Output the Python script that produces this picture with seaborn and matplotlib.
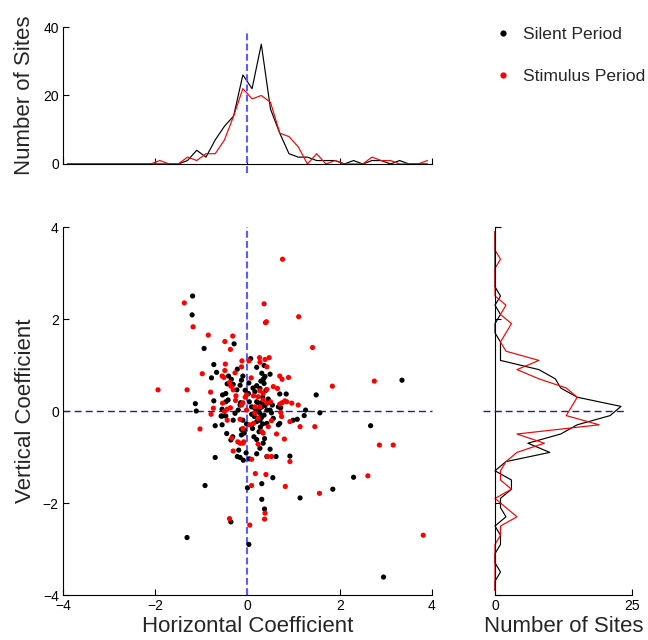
import matplotlib
matplotlib.use("Agg")
import matplotlib.pyplot as plt
from matplotlib.lines import Line2D
import pandas as pd
import seaborn as sns

sns.set_theme(style="ticks")
plt.rcParams["font.family"] = ["Liberation Sans", "DejaVu Sans"]

# histogram bin centres (width 0.2)
bin_centers = [-3.9, -3.7, -3.5, -3.3, -3.1, -2.9, -2.7, -2.5, -2.3, -2.1,
               -1.9, -1.7, -1.5, -1.3, -1.1, -0.9, -0.7, -0.5, -0.3, -0.1,
               0.1, 0.3, 0.5, 0.7, 0.9, 1.1, 1.3, 1.5, 1.7, 1.9,
               2.1, 2.3, 2.5, 2.7, 2.9, 3.1, 3.3, 3.5, 3.7, 3.9]

# horizontal coefficient histogram (top)
top_silent = [0, 0, 0, 0, 0, 0, 0, 0, 0, 0,
              0, 0, 0, 1, 4, 2, 7, 11, 14, 26,
              22, 35, 16, 9, 3, 2, 2, 1, 1, 1,
              0, 1, 0, 1, 1, 0, 1, 0, 0, 0]
top_stim = [0, 0, 0, 0, 0, 0, 0, 0, 0, 0,
            1, 0, 0, 2, 1, 3, 3, 7, 14, 22,
            19, 20, 18, 9, 8, 5, 0, 3, 0, 1,
            0, 0, 0, 2, 1, 1, 0, 0, 0, 1]

# vertical coefficient histogram (right)
right_silent = [0, 0, 1, 0, 0, 1, 1, 0, 2, 1,
                1, 3, 3, 0, 2, 10, 6, 12, 15, 21,
                23, 15, 12, 11, 8, 1, 1, 1, 0, 0,
                1, 0, 1, 0, 0, 0, 0, 0, 0, 0]
right_stim = [0, 0, 0, 0, 0, 0, 1, 1, 4, 2,
              0, 3, 1, 1, 2, 4, 9, 4, 19, 13,
              14, 15, 13, 8, 4, 8, 2, 1, 2, 3,
              1, 2, 0, 0, 0, 0, 1, 0, 0, 0]

# per-site coefficients, silent period
silent_h = [-1.19, -1.20, -0.29, -0.94, -1.13, -1.11, -0.73, -0.78, -0.67, -0.73,
            3.35, 1.49, 1.26, 1.57, 1.23, 1.08, 0.84, 0.70, 0.72, 0.07,
            0.20, 0.36, 0.31, 0.49, 0.38, -0.22, -0.10, -0.41, -0.35, -0.44,
            -0.16, -0.13, 0.03, -0.31, -0.23, -0.54, -0.47, -0.47, -0.42, -0.55,
            -0.57, -0.16, -0.15, 0.20, 0.27, 0.36, 0.16, 0.02, 0.20, 0.31,
            0.45, 0.04, 0.09, 0.20, 0.27, 0.09, 0.42, 0.52, -0.70, -0.55,
            -0.55, -0.47, -0.45, -0.32, -0.36, -0.31, -0.27, -0.20, -0.10, -0.13,
            -0.07, -0.13, -0.07, -0.19, -0.22, -0.16, -0.09, -0.03, 0.04, -0.70,
            0.20, 0.27, 0.34, 0.49, 0.62, 0.42, 0.92, 0.20, 0.14, 0.15,
            0.20, 0.27, 0.36, 0.42, 0.49, 0.56, 0.67, 0.70, 0.54, 0.31,
            0.23, 0.16, 0.45, 0.67, 0.99, 2.67, 2.30, 1.85, 1.14, 0.55,
            0.31, 0.00, -0.92, 0.31, 0.37, -0.36, -1.31, 0.03, 2.95, 0.33,
            0.28, 0.38, 0.25, 0.35, 0.30, 0.40, 0.26, 0.33, 0.29, 0.37,
            -0.05, -0.02, 0.12, 0.11]
silent_v = [2.50, 2.09, 1.46, 1.36, 0.16, 0.00, 1.01, 0.72, 0.84, 0.22,
            0.67, 0.35, 0.02, -0.04, -0.10, -0.18, 0.37, 0.37, 0.07, 1.14,
            0.95, 0.99, 0.82, 0.80, 0.75, 0.91, 0.76, 0.76, 0.69, 0.59,
            0.56, 0.67, 0.61, 0.58, 0.46, 0.35, 0.38, 0.20, 0.24, 0.04,
            -0.11, 0.13, 0.18, 0.55, 0.49, 0.60, 0.42, 0.38, 0.20, 0.18,
            0.26, 0.20, 0.09, -0.01, -0.05, -0.07, 0.02, -0.04, -0.32, -0.30,
            -0.11, -0.11, -0.49, -0.56, -0.63, -0.20, -0.05, 0.02, -0.20, -0.40,
            -0.41, -0.52, -0.48, -0.85, -0.99, -1.01, -1.07, -0.91, -1.04, -1.01,
            -0.93, -0.81, -0.70, -0.83, -0.99, -0.99, -0.98, -0.62, -0.56, -0.12,
            -0.23, -0.20, -0.09, -0.27, 0.02, -0.16, -0.30, -0.27, 0.13, 0.09,
            0.18, 0.06, 0.18, 0.09, -0.20, -0.32, -1.44, -1.70, -1.89, -1.45,
            -1.58, -1.67, -1.62, -1.92, -2.13, -2.41, -2.75, -2.90, -3.61, 0.30,
            -0.35, 0.12, -0.45, 0.70, -0.15, 0.45, 0.05, -0.28, 0.65, -0.60,
            0.45, -0.28, 0.50, -0.38]

# per-site coefficients, stimulus period
stim_h = [0.76, -1.37, -1.18, 0.36, 0.39, 0.41, 1.11, -0.85, -0.49, -0.32,
          -0.37, 1.41, -1.94, -1.31, -0.98, -0.80, -0.79, 1.84, 2.75, 1.10,
          0.96, 0.89, 0.70, 0.75, 0.81, 0.75, 0.70, 0.72, -0.12, 0.03,
          0.26, 0.38, 0.47, 0.27, 0.42, -0.13, -0.48, -0.49, -0.27, -0.55,
          -0.51, -0.39, -0.36, -0.31, 0.08, -0.54, -0.25, -0.26, -0.37, -0.44,
          -0.10, -0.05, -0.02, 0.13, 0.23, 0.27, 0.34, 0.42, 0.56, 0.65,
          0.34, 0.42, 0.50, 0.27, 0.16, -0.13, -1.03, -0.74, -0.50, -0.44,
          -0.34, -0.10, -0.16, -0.21, -0.16, -0.10, -0.08, -0.31, 0.09, 0.23,
          0.43, 0.52, 0.92, 0.80, 0.63, 0.05, 0.13, 0.23, 0.31, 0.34,
          0.45, 0.52, 0.74, 0.92, 1.14, 1.46, 0.16, -0.02, 0.85, 2.86,
          3.16, 2.61, 1.56, 0.82, 0.40, 0.17, 0.09, 0.38, 0.37, -0.39,
          0.05, 3.81]
stim_v = [3.30, 2.35, 1.83, 2.33, 1.92, 1.94, 2.05, 1.65, 1.51, 1.63,
          1.34, 1.38, 0.46, 0.46, 0.81, 0.41, -0.07, 0.54, 0.65, 0.13,
          0.17, 0.73, 0.76, 0.69, 0.22, 0.18, 0.15, -0.03, 1.09, 1.09,
          1.16, 1.12, 1.16, 1.06, 0.96, 0.96, 1.02, 0.88, 0.83, 0.76,
          0.73, 0.62, 0.54, 0.46, 0.72, 0.17, 0.33, 0.23, 0.07, 0.04,
          0.18, 0.30, 0.35, 0.33, 0.31, 0.44, 0.38, 0.47, 0.53, 0.49,
          0.24, 0.17, 0.20, 0.09, 0.09, 0.13, -0.39, 0.06, -0.01, -0.20,
          -0.59, -0.38, -0.18, -0.67, -0.70, -0.70, -0.67, -0.87, -1.05, -0.72,
          -0.99, -0.99, -1.10, -0.61, -0.50, -0.30, -0.27, -0.16, -0.45, -0.48,
          -0.34, -0.21, -0.12, -0.23, -0.34, -0.34, -0.05, 0.02, 0.20, -0.74,
          -0.74, -1.41, -1.79, -1.64, -1.38, -1.36, -1.62, -2.22, -2.35, -2.34,
          -2.48, -2.70]

ticks = [-4, -2, 0, 2, 4]
lab_fs = 16
tick_fs = 10

sites = pd.concat([
    pd.DataFrame({"h": silent_h, "v": silent_v, "period": "Silent Period"}),
    pd.DataFrame({"h": stim_h, "v": stim_v, "period": "Stimulus Period"}),
])
colors = {"Silent Period": "black", "Stimulus Period": "red"}

fig = plt.figure(figsize=(6.48, 6.40), dpi=100)
ax_main = fig.add_axes([0.0972, 0.0703, 0.5694, 0.575])
ax_top = fig.add_axes([0.0972, 0.7438, 0.5694, 0.2140])
ax_right = fig.add_axes([0.7639, 0.0703, 0.2114, 0.575])

vblue = "#5c5cff"
hblue = "#1c1ca8"

# scatter
ax_main.axvline(0, color=vblue, lw=1.5, dashes=(3.3, 1.6), zorder=1)
ax_main.axhline(0, color=hblue, lw=1.0, dashes=(5, 3), zorder=1)
sns.scatterplot(data=sites, x="h", y="v", hue="period", palette=colors,
                s=14, linewidth=0, legend=False, ax=ax_main, zorder=3)
ax_main.set_xlim(-4, 4)
ax_main.set_ylim(-4, 4)
ax_main.set_xticks(ticks)
ax_main.set_yticks(ticks)
ax_main.set_xticklabels(["\u22124", "\u22122", "0", "2", "4"])
ax_main.set_yticklabels(["\u22124", "\u22122", "0", "2", "4"])
ax_main.set_xlabel("Horizontal Coefficient", fontsize=lab_fs, labelpad=2)
ax_main.set_ylabel("Vertical Coefficient", fontsize=lab_fs, labelpad=5)

# top histogram
sns.lineplot(x=bin_centers, y=top_silent, color="black", lw=0.85, ax=ax_top)
sns.lineplot(x=bin_centers, y=top_stim, color="red", lw=0.85, ax=ax_top)
ax_top.plot([0, 0], [-2.6, 39], color=vblue, lw=1.5, dashes=(3.3, 1.6),
            clip_on=False, zorder=4)
ax_top.set_xlim(-4, 4)
ax_top.set_ylim(0, 40)
ax_top.set_xticks(ticks)
ax_top.set_xticklabels([])
ax_top.set_yticks([0, 20, 40])
ax_top.set_ylabel("Number of Sites", fontsize=lab_fs, labelpad=6)

# right histogram
sns.lineplot(x=right_silent, y=bin_centers, orient="y", estimator=None,
             color="black", lw=0.85, ax=ax_right)
sns.lineplot(x=right_stim, y=bin_centers, orient="y", estimator=None,
             color="red", lw=0.85, ax=ax_right)
ax_right.plot([-2.2, 24], [0, 0], color=hblue, lw=1.0, dashes=(5, 3),
              clip_on=False, zorder=4)
ax_right.set_xlim(0, 25)
ax_right.set_ylim(-4, 4)
ax_right.set_xticks([0, 25])
ax_right.set_yticks(ticks)
ax_right.set_yticklabels([])
ax_right.set_xlabel("Number of Sites", fontsize=lab_fs, labelpad=2)

for ax in (ax_main, ax_top, ax_right):
    sns.despine(ax=ax)
    ax.tick_params(direction="in", length=4, width=0.8, labelsize=tick_fs,
                   colors="black", pad=3)
    for side in ("left", "bottom"):
        ax.spines[side].set_color("black")
        ax.spines[side].set_linewidth(0.8)
    for ln in ax.get_lines():
        ln.set_clip_on(False)

handles = [Line2D([], [], ls="", marker="o", ms=4.5, color=c, mec="none")
           for c in colors.values()]
fig.legend(handles, list(colors.keys()), loc="upper left",
           bbox_to_anchor=(0.747, 0.974), frameon=False, fontsize=12.6,
           handlelength=1.0, handletextpad=0.6, labelspacing=1.5,
           borderaxespad=0.2)

fig.savefig("out.png", dpi=100)
